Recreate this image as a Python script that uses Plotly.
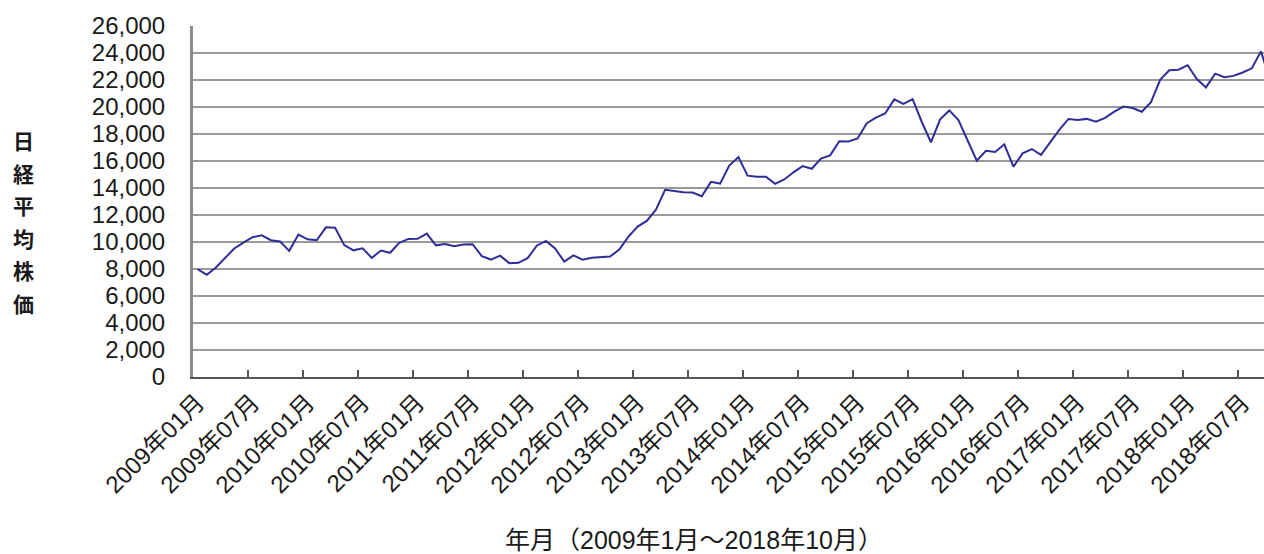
import plotly.graph_objects as go

years = list(range(2009, 2019))
months = [f"{y}年{m:02d}月" for y in years for m in range(1, 13)][:118]

nikkei = [
    7994, 7568, 8109, 8828, 9522, 9958, 10357, 10492, 10133, 10034, 9345, 10546,
    10198, 10126, 11089, 11057, 9768, 9382, 9537, 8824, 9369, 9202, 9937, 10228,
    10237, 10624, 9755, 9849, 9693, 9816, 9833, 8955, 8700, 8988, 8434, 8455,
    8802, 9723, 10083, 9520, 8542, 9006, 8695, 8839, 8870, 8928, 9446, 10395,
    11138, 11559, 12397, 13861, 13775, 13677, 13668, 13389, 14456, 14327, 15662, 16291,
    14915, 14841, 14828, 14304, 14632, 15162, 15621, 15425, 16174, 16414, 17460, 17451,
    17674, 18798, 19207, 19520, 20563, 20236, 20585, 18890, 17388, 19083, 19747, 19034,
    17518, 16027, 16759, 16666, 17235, 15576, 16569, 16887, 16450, 17425, 18308, 19114,
    19041, 19119, 18909, 19197, 19651, 20033, 19925, 19646, 20356, 22012, 22725, 22765,
    23098, 22068, 21454, 22468, 22202, 22305, 22554, 22865, 24120, 21920,
]

tick_labels = months[::6]
y_title = "日経平均株価"
x_title = "年月（2009年1月～2018年10月）"

FONT = "Liberation Sans, Noto Sans CJK JP, sans-serif"
CJK = "Noto Sans CJK JP, sans-serif"

X_RANGE = [-0.5, 116.33]

fig = go.Figure()
fig.add_trace(go.Scatter(
    x=months, y=nikkei, mode="lines",
    line=dict(color="#2e2e96", width=2),
    showlegend=False, cliponaxis=True,
))
# empty helper trace so the boundary-tick axis is drawn
fig.add_trace(go.Scatter(
    x=[None], y=[None], xaxis="x2", yaxis="y",
    mode="lines", showlegend=False, hoverinfo="skip",
))

W, H = 1264, 554
L, R, T, B = 193, 0, 26, 177
pw = W - L - R
ph = H - T - B

fig.update_layout(
    width=W, height=H,
    margin=dict(l=L, r=R, t=T, b=B, pad=0, autoexpand=False),
    paper_bgcolor="white", plot_bgcolor="white",
    font=dict(family=FONT, color="#1a1a1a", size=24),
    xaxis2=dict(
        type="linear", overlaying="x", anchor="y", side="bottom",
        range=X_RANGE, automargin=False,
        tickmode="array",
        tickvals=[months.index(m) - 0.5 for m in tick_labels[1:]],
        showticklabels=False,
        ticks="inside", ticklen=7, tickwidth=2, tickcolor="#555555",
        showgrid=False, zeroline=False, showline=False,
    ),
)
fig.layout.xaxis.update(
    type="category", automargin=False,
    range=X_RANGE,
    tickmode="array", tickvals=tick_labels, ticktext=tick_labels,
    ticks="",
    tickangle=-45,
    tickfont=dict(family=FONT, size=24, color="#1a1a1a"),
    showgrid=False, zeroline=False,
    showline=True, linecolor="#555555", linewidth=2,
)
fig.update_yaxes(
    automargin=False,
    range=[0, 26000], dtick=2000, tick0=0,
    tickformat=",d",
    ticks="", ticklabelstandoff=20,
    tickfont=dict(family=FONT, size=24, color="#1a1a1a"),
    showgrid=True, gridcolor="#999999", gridwidth=2,
    zeroline=False,
    showline=True, linecolor="#8c8c8c", linewidth=3,
)

for i, ch in enumerate(y_title):
    yc = 140 + 32.6 * i
    fig.add_annotation(
        text=ch, xref="paper", yref="paper",
        x=(23 - L) / pw, y=(H - B - yc) / ph,
        showarrow=False, xanchor="center", yanchor="middle",
        font=dict(family=CJK, size=21, color="#1a1a1a", weight="bold"),
    )

fig.add_annotation(
    text=x_title, xref="paper", yref="paper",
    x=(694 - L) / pw, y=(H - B - 540) / ph,
    showarrow=False, xanchor="center", yanchor="middle",
    font=dict(family=FONT, size=25, color="#1a1a1a"),
)

fig.write_html(
    "out.html",
    config={"displayModeBar": False},
    post_script="document.body.style.margin='0px';document.body.style.overflow='hidden';",
)
